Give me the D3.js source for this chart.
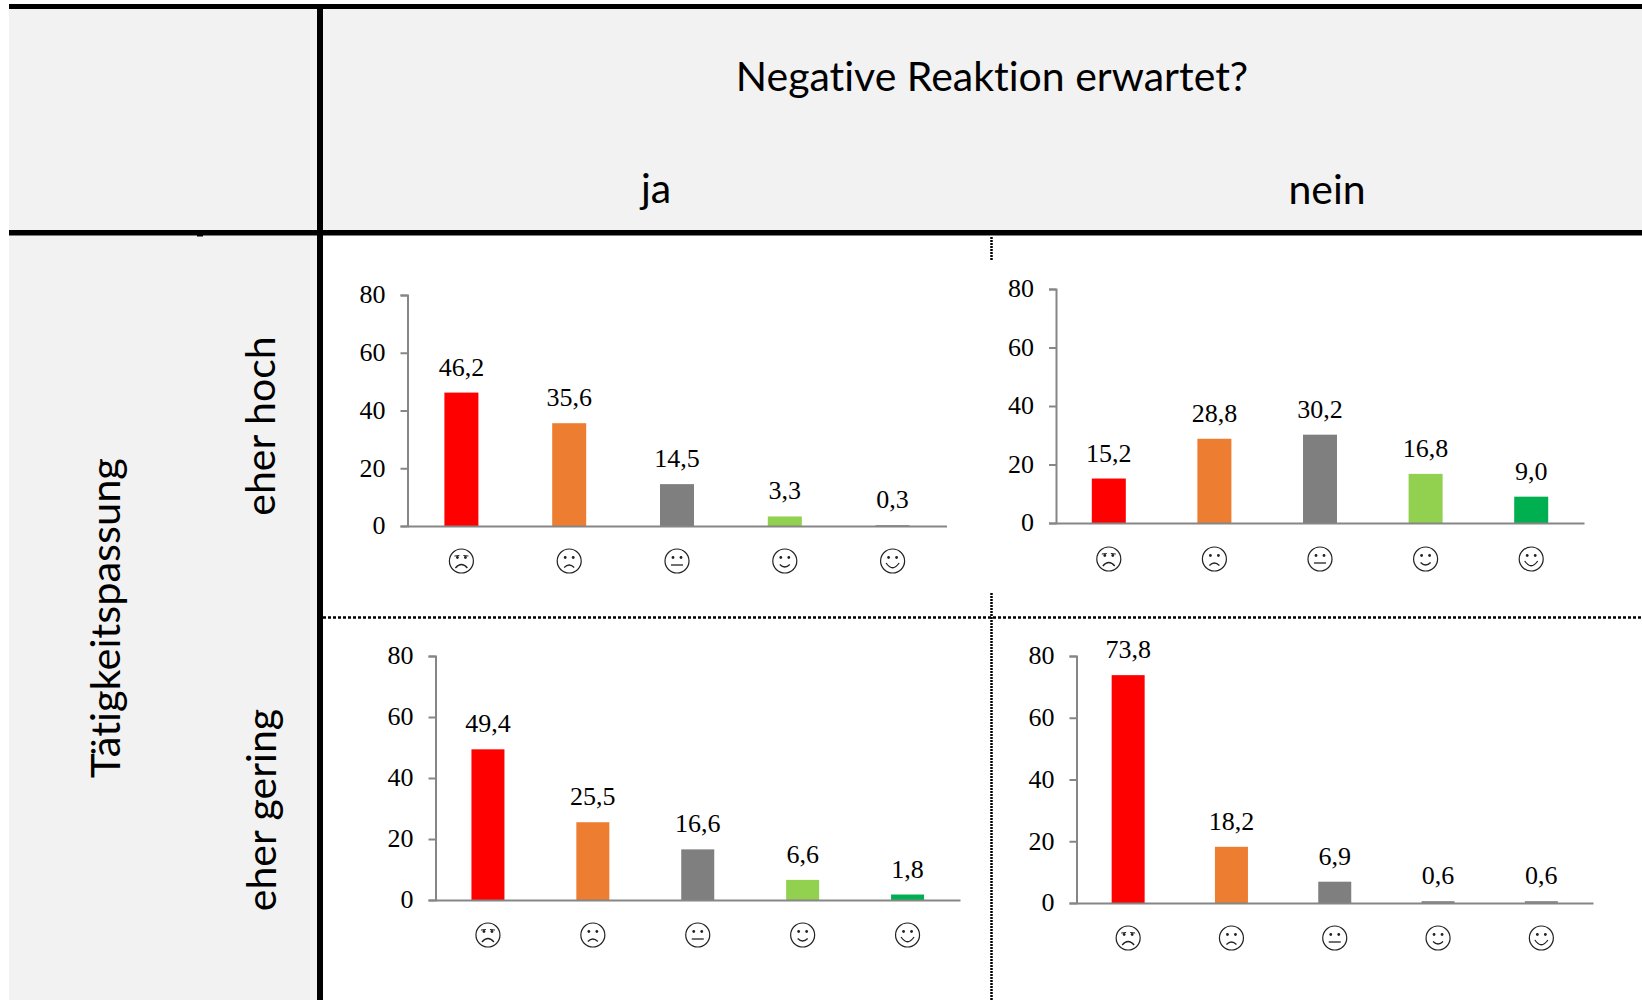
<!DOCTYPE html>
<html>
<head>
<meta charset="utf-8">
<script src="https://cdn.jsdelivr.net/npm/d3@7"></script>
<style>
html, body { margin: 0; padding: 0; background: #fff; overflow: hidden; }
svg { display: block; }
.head { font-family: Lato, "Open Sans", sans-serif; fill: #000; font-variant-ligatures: none; }
.num { font-family: "Liberation Serif", serif; font-size: 26px; fill: #000; }
</style>
</head>
<body>
<svg id="chart" width="1642" height="1000"></svg>
<script>
const moods = ["sehr negativ", "negativ", "neutral", "positiv", "sehr positiv"];
const moodColors = ["#ff0000", "#ed7d31", "#7f7f7f", "#92d050", "#00b050"];
const yTicks = [0, 20, 40, 60, 80];

const jaHoch = [46.2, 35.6, 14.5, 3.3, 0.3];
const neinHoch = [15.2, 28.8, 30.2, 16.8, 9.0];
const jaGering = [49.4, 25.5, 16.6, 6.6, 1.8];
const neinGering = [73.8, 18.2, 6.9, 0.6, 0.6];

// left/right/top/zero of each small chart
const panels = [
    { values: jaHoch, left: 407.5, right: 946.5, top: 295, zero: 526, barW: 34, faceY: 561 },
    { values: neinHoch, left: 1056, right: 1584, top: 289, zero: 523, barW: 34, faceY: 559 },
    { values: jaGering, left: 435.5, right: 960, top: 656, zero: 900, barW: 33, faceY: 935 },
    { values: neinGering, left: 1076.5, right: 1593, top: 656, zero: 903, barW: 33, faceY: 938 }
];

const svg = d3.select("#chart");
const axisColor = "#868686";

// grey header areas
svg.append("rect").attr("x", 9).attr("y", 9).attr("width", 1633).attr("height", 222).attr("fill", "#f2f2f2");
svg.append("rect").attr("x", 9).attr("y", 231).attr("width", 308).attr("height", 769).attr("fill", "#f2f2f2");

// dotted inner grid
function dotted(x1, y1, x2, y2, dash) {
    svg.append("line")
        .attr("x1", x1).attr("y1", y1).attr("x2", x2).attr("y2", y2)
        .attr("stroke", "#000").attr("stroke-width", 2.5).attr("stroke-dasharray", dash);
}
dotted(323, 617.5, 1642, 617.5, "3 2");
dotted(991.5, 237, 991.5, 260, "2 1");
dotted(991.5, 593, 991.5, 1000, "2 1");

// thick frame lines
svg.append("rect").attr("x", 9).attr("y", 4).attr("width", 1633).attr("height", 5).attr("fill", "#000");
svg.append("rect").attr("x", 9).attr("y", 230).attr("width", 1633).attr("height", 5.5).attr("fill", "#000");
svg.append("rect").attr("x", 317).attr("y", 9).attr("width", 6).attr("height", 991).attr("fill", "#000");
svg.append("rect").attr("x", 197).attr("y", 235).attr("width", 6).attr("height", 1.5).attr("fill", "#000");

// header texts
function headText(txt, x, y, size, rotate) {
    svg.append("text").attr("class", "head")
        .attr("text-anchor", "middle")
        .attr("font-size", size)
        .attr("transform", "translate(" + x + "," + y + ")" + (rotate ? " rotate(-90)" : ""))
        .text(txt);
}
headText("Negative Reaktion erwartet?", 992, 91, 41);
headText("ja", 656, 203, 41);
headText("nein", 1327, 204, 41);
headText("Tätigkeitspassung", 120, 618, 41.5, true);
headText("eher hoch", 275, 426, 41, true);
headText("eher gering", 276, 810, 41, true);

// smiley faces, mouth depends on the mood
function drawFace(g, mood) {
    const i = moods.indexOf(mood);
    g.append("circle").attr("r", 12).attr("fill", "#fff").attr("stroke", "#222").attr("stroke-width", 1.2);
    const mouths = [
        "M-6,7 Q0,0 6,7",
        "M-5,6.5 Q0,1.5 5,6.5",
        "M-6,4 L6,4",
        "M-5,3.5 Q0,8.5 5,3.5",
        "M-6.5,2 Q0,11.5 6.5,2"
    ];
    g.append("path").attr("d", mouths[i]).attr("fill", "none").attr("stroke", "#222").attr("stroke-width", 1.3);
    [-4, 4].forEach(function(dx) {
        g.append("circle").attr("cx", dx).attr("cy", -3.5).attr("r", 1.4).attr("fill", "#222");
    });
    if (i === 0) {
        // brows on the saddest one
        g.append("path").attr("d", "M-7,-5 L-2,-5.5 M7,-5 L2,-5.5").attr("stroke", "#222").attr("stroke-width", 1);
    }
}

panels.forEach(function(p) {
    const x = d3.scaleBand().domain(moods).range([p.left, p.right]);
    const y = d3.scaleLinear().domain([0, 80]).range([p.zero, p.top]);
    const g = svg.append("g");

    // bars under 1 only show as a grey thickening of the axis
    g.selectAll(".bar")
        .data(p.values)
        .enter()
        .append("rect")
        .attr("class", "bar")
        .attr("x", function(d, i) { return x(moods[i]) + x.bandwidth() / 2 - p.barW / 2; })
        .attr("y", function(d) { return y(d); })
        .attr("width", p.barW)
        .attr("height", function(d) { return y(0) - y(d); })
        .attr("fill", function(d, i) { return d < 1 ? axisColor : moodColors[i]; });

    const yAxis = g.append("g")
        .attr("transform", "translate(" + p.left + ",0)")
        .call(d3.axisLeft(y).tickValues(yTicks).tickSize(7).tickPadding(15));
    yAxis.select(".domain").attr("stroke", axisColor).attr("stroke-width", 2);
    yAxis.selectAll("line").attr("stroke", axisColor).attr("stroke-width", 2);
    yAxis.selectAll("text").attr("class", "num").attr("fill", "#000").attr("dy", "0.3em")
        .style("font-size", "26px").style("font-family", "Liberation Serif");

    const xAxis = g.append("g")
        .attr("transform", "translate(0," + p.zero + ")")
        .call(d3.axisBottom(x).tickSize(0).tickFormat(""));
    xAxis.select(".domain").attr("stroke", axisColor).attr("stroke-width", 2);

    g.selectAll(".val")
        .data(p.values)
        .enter()
        .append("text")
        .attr("class", "num val")
        .attr("text-anchor", "middle")
        .attr("x", function(d, i) { return x(moods[i]) + x.bandwidth() / 2; })
        .attr("y", function(d) { return y(d) - 17; })
        .text(function(d) { return d.toFixed(1).replace(".", ","); });

    moods.forEach(function(m) {
        const face = g.append("g")
            .attr("transform", "translate(" + (x(m) + x.bandwidth() / 2) + "," + p.faceY + ")");
        drawFace(face, m);
    });
});
</script>
</body>
</html>
